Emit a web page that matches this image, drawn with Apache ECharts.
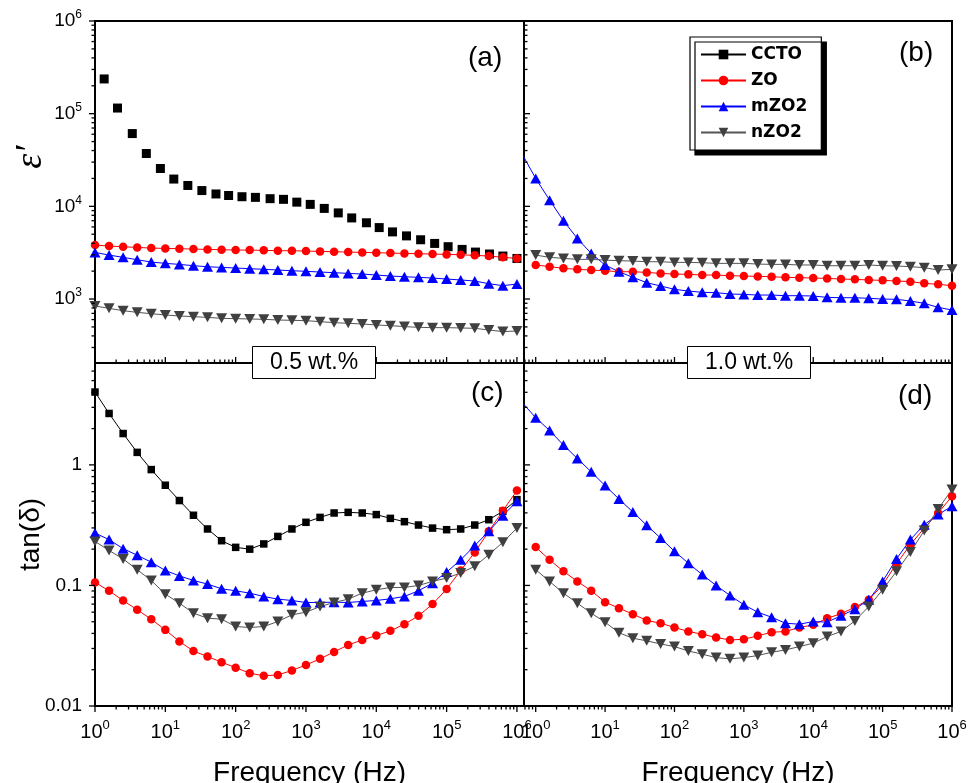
<!DOCTYPE html>
<html>
<head>
<meta charset="utf-8">
<script src="https://cdn.jsdelivr.net/npm/echarts@6/dist/echarts.min.js"></script>
<style>
  html, body { margin: 0; padding: 0; background: #fff; }
  #chart { width: 968px; height: 783px; }
</style>
</head>
<body>
<div id="chart"></div>
<script>
// ---- Measurement frequencies (Hz) ----
const freq = [1, 1.585, 2.512, 3.981, 6.310, 10, 15.85, 25.12, 39.81, 63.10,
  100, 158.5, 251.2, 398.1, 631.0, 1000, 1585, 2512, 3981, 6310,
  1e4, 1.585e4, 2.512e4, 3.981e4, 6.310e4, 1e5, 1.585e5, 2.512e5, 3.981e5, 6.310e5, 1e6];
// mZO2 at 1.0 wt.% also has a reading just below 1 Hz
const freqM10 = [0.631, 1, 1.585, 2.512, 3.981, 6.310, 10, 15.85, 25.12, 39.81, 63.10,
  100, 158.5, 251.2, 398.1, 631.0, 1000, 1585, 2512, 3981, 6310,
  1e4, 1.585e4, 2.512e4, 3.981e4, 6.310e4, 1e5, 1.585e5, 2.512e5, 3.981e5, 6.310e5, 1e6];
// CCTO permittivity sweep
const freqCCTOeps = [1.35, 2.09, 3.39, 5.37, 8.51, 13.2, 20.9, 33.1, 52.5, 79.4,
  123, 191, 309, 479, 741, 1150, 1820, 2880, 4470, 7240,
  1.10e4, 1.70e4, 2.69e4, 4.27e4, 6.76e4, 1.05e5, 1.66e5, 2.57e5, 4.07e5, 6.31e5, 1e6];

// ---- Real permittivity, 0.5 wt.% ----
const epsCCTO = [2.37e5, 1.15e5, 6.1e4, 3.72e4, 2.56e4, 1.97e4, 1.68e4, 1.48e4, 1.36e4, 1.31e4,
  1.27e4, 1.25e4, 1.21e4, 1.19e4, 1.11e4, 1.05e4, 9500, 8500, 7500, 6650,
  5900, 5300, 4800, 4360, 3980, 3670, 3430, 3210, 3060, 2910, 2740];
const epsZO05 = [3820, 3725, 3665, 3605, 3545, 3515, 3490, 3460, 3430, 3405,
  3375, 3375, 3350, 3320, 3320, 3290, 3265, 3240, 3210, 3185,
  3160, 3130, 3105, 3080, 3055, 3030, 3005, 2960, 2910, 2815, 2745];
const epsM05 = [3185, 2980, 2815, 2655, 2505, 2425, 2365, 2290, 2230, 2195,
  2160, 2125, 2090, 2055, 2020, 1990, 1955, 1925, 1890, 1860,
  1815, 1770, 1740, 1713, 1685, 1643, 1605, 1565, 1463, 1393, 1452];
const epsN05 = [841, 793, 748, 718, 695, 673, 656, 645, 634, 619,
  614, 609, 604, 594, 589, 584, 570, 556, 547, 538,
  525, 516, 504, 495, 491, 491, 487, 483, 463, 445, 452];

// ---- Real permittivity, 1.0 wt.% ----
const epsZO10 = [2330, 2235, 2145, 2090, 2055, 2020, 1970, 1970, 1938, 1890,
  1860, 1845, 1815, 1815, 1785, 1770, 1755, 1740, 1713, 1700,
  1685, 1670, 1643, 1630, 1605, 1590, 1565, 1540, 1477, 1440, 1393];
const epsM10 = [37150, 20000, 11670, 6985, 4505, 3105, 2325, 1970, 1713, 1500, 1382,
  1272, 1220, 1180, 1170, 1132, 1122, 1104, 1104, 1086, 1086,
  1077, 1042, 1033, 1033, 1017, 1000, 992, 952, 898, 813, 761];
const epsN10 = [2980, 2815, 2745, 2680, 2680, 2630, 2590, 2570, 2525, 2525,
  2485, 2485, 2465, 2425, 2425, 2425, 2385, 2365, 2365, 2330,
  2330, 2287, 2287, 2287, 2330, 2287, 2270, 2235, 2180, 2055, 2090];

// ---- Loss tangent, 0.5 wt.% ----
const tanCCTO = [4.02, 2.67, 1.82, 1.27, 0.914, 0.678, 0.506, 0.382, 0.294, 0.235,
  0.207, 0.200, 0.221, 0.255, 0.294, 0.334, 0.367, 0.399, 0.404, 0.399,
  0.387, 0.360, 0.338, 0.317, 0.299, 0.290, 0.294, 0.317, 0.351, 0.412, 0.515];
const tanZO05 = [0.106, 0.0903, 0.0750, 0.0628, 0.0525, 0.0428, 0.0343, 0.0286, 0.0257, 0.0231,
  0.0208, 0.0187, 0.0178, 0.0181, 0.0197, 0.0219, 0.0246, 0.0281, 0.0321, 0.0353,
  0.0384, 0.0420, 0.0477, 0.0560, 0.0700, 0.0933, 0.133, 0.188, 0.281, 0.417, 0.612];
const tanM05 = [0.272, 0.240, 0.202, 0.178, 0.156, 0.133, 0.120, 0.110, 0.1026, 0.0938,
  0.0903, 0.0863, 0.0810, 0.0770, 0.0750, 0.0722, 0.0722, 0.0727, 0.0722, 0.0737,
  0.0750, 0.0775, 0.0810, 0.0903, 0.1045, 0.129, 0.163, 0.214, 0.281, 0.379, 0.499];
const tanN05 = [0.232, 0.195, 0.166, 0.135, 0.110, 0.0847, 0.0713, 0.0589, 0.0535, 0.0525,
  0.0456, 0.0448, 0.0456, 0.0502, 0.0570, 0.0600, 0.0668, 0.0722, 0.0770, 0.0863,
  0.0920, 0.0962, 0.0962, 0.100, 0.108, 0.115, 0.127, 0.144, 0.180, 0.228, 0.299];

// ---- Loss tangent, 1.0 wt.% ----
const tanZO10 = [0.208, 0.163, 0.131, 0.108, 0.0903, 0.0727, 0.0648, 0.0578, 0.0512, 0.0486,
  0.0448, 0.0415, 0.0394, 0.0370, 0.0353, 0.0358, 0.0382, 0.0409, 0.0415, 0.0448,
  0.0471, 0.0535, 0.0582, 0.0661, 0.0760, 0.101, 0.151, 0.218, 0.299, 0.399, 0.549];
const tanM10 = [3.32, 2.46, 1.93, 1.46, 1.13, 0.875, 0.673, 0.521, 0.407, 0.315, 0.247,
  0.192, 0.153, 0.123, 0.100, 0.0826, 0.0691, 0.0600, 0.0545, 0.0486, 0.0477,
  0.0502, 0.0496, 0.0560, 0.0636, 0.0760, 0.108, 0.166, 0.240, 0.319, 0.387, 0.454];
const tanN10 = [0.135, 0.108, 0.0863, 0.0713, 0.0589, 0.0496, 0.0405, 0.0365, 0.0347, 0.0327,
  0.0311, 0.0286, 0.0269, 0.0252, 0.0246, 0.0252, 0.0262, 0.0279, 0.0292, 0.0311,
  0.0332, 0.0377, 0.0415, 0.0508, 0.0668, 0.0920, 0.131, 0.189, 0.285, 0.431, 0.624];

// ---- Axis ranges and tick values ----
const xRangeLeft = [1, 1.26e6];
const xRangeRight = [0.678, 1e6];
const epsRange = [204, 1e6];
const tanRange = [0.01, 7.0];
const decadesX = [1, 10, 100, 1e3, 1e4, 1e5, 1e6];
const decadesEps = [1e3, 1e4, 1e5, 1e6];
const decadesTan = [0.01, 0.1, 1];
const minorMantissa = [2, 3, 4, 5, 6, 7, 8, 9];

const seriesNames = ['CCTO', 'ZO', 'mZO2', 'nZO2'];
const wtLabels = ['0.5 wt.%', '1.0 wt.%'];
const panelLabels = ['(a)', '(b)', '(c)', '(d)'];

// ---------------------------------------------------------------
const FONT = '"Liberation Sans", Arial, sans-serif';
const colors = { CCTO: '#000000', ZO: '#ff0000', mZO2: '#0000ff', nZO2: '#404040' };
const lineColors = { CCTO: '#000000', ZO: '#ff0000', mZO2: '#0000ff', nZO2: '#555555' };
const downTriangle = 'path://M0,0L10,0L5,9Z';

function minorWithin(lo, hi) {
  const out = [];
  for (let k = Math.floor(Math.log10(lo)); k <= Math.ceil(Math.log10(hi)); k++) {
    for (const m of minorMantissa) {
      const v = m * Math.pow(10, k);
      if (v > lo && v < hi) out.push(v);
    }
  }
  return out;
}
function within(vals, r) { return vals.filter(v => v >= r[0] * 0.999999 && v <= r[1] * 1.000001); }

function isDecade(v) {
  const e = Math.log10(v);
  return Math.abs(e - Math.round(e)) < 1e-6;
}
const powFmt = v => isDecade(v) ? '{b|10}{s|' + Math.round(Math.log10(v)) + '}' : '';
const decFmt = v => isDecade(v) ? String(+v.toPrecision(6)) : '';

// ticks drawn through each grid's own axes
function tickSeries(gi, dim, values, refValue, len) {
  return {
    type: 'custom', xAxisIndex: gi, yAxisIndex: gi, silent: true, z: 6,
    animation: false,
    data: values.map(v => dim === 'x' ? [v, refValue] : [refValue, v]),
    renderItem: function (params, api) {
      const cs = params.coordSys;
      const p = api.coord([api.value(0), api.value(1)]);
      const shape = dim === 'x'
        ? { x1: p[0], y1: cs.y + cs.height, x2: p[0], y2: cs.y + cs.height + len }
        : { x1: cs.x, y1: p[1], x2: cs.x + len, y2: p[1] };
      return { type: 'line', shape: shape, style: { stroke: '#000', lineWidth: 1.3 } };
    }
  };
}

function lineSeries(name, gi, xs, ys, o) {
  o = o || {};
  const sym = { CCTO: 'rect', ZO: 'circle', mZO2: 'triangle', nZO2: downTriangle }[name];
  const size = { CCTO: o.rect || 7.5, ZO: 8.5, mZO2: [11, 10], nZO2: [11, 10] }[name];
  return {
    type: 'line', name: name, xAxisIndex: gi, yAxisIndex: gi,
    data: xs.map((x, i) => [x, ys[i]]),
    symbol: sym, symbolSize: size, showSymbol: true, showAllSymbol: true,
    itemStyle: { color: colors[name], opacity: 1 },
    lineStyle: { color: lineColors[name], width: o.noLine ? 0 : 1, opacity: o.noLine ? 0 : 1 },
    clip: true, animation: false, z: 3
  };
}

const grids = [
  { left: 95, top: 21, width: 429, height: 342 },
  { left: 524, top: 21, width: 428, height: 342 },
  { left: 95, top: 363, width: 429, height: 343 },
  { left: 524, top: 363, width: 428, height: 343 }
].map(g => Object.assign(g, {
  show: true, borderColor: '#000', borderWidth: 2, backgroundColor: 'transparent',
  outerBoundsMode: 'none', containLabel: false
}));

const axisLine = { show: true, lineStyle: { color: '#000', width: 2 } };
const richX = {
  b: { fontSize: 20, lineHeight: 26, fontFamily: FONT, color: '#000' },
  s: { fontSize: 13, lineHeight: 13, verticalAlign: 'top', fontFamily: FONT, color: '#000' }
};
const richY = {
  b: { fontSize: 19, lineHeight: 24, fontFamily: FONT, color: '#000' },
  s: { fontSize: 12, lineHeight: 12, verticalAlign: 'top', fontFamily: FONT, color: '#000' }
};

function xAxis(gi, range, labels) {
  return {
    type: 'log', logBase: 10, gridIndex: gi, min: range[0], max: range[1],
    axisLine: axisLine, axisTick: { show: false }, splitLine: { show: false },
    axisLabel: labels ? { show: true, formatter: powFmt, rich: richX, margin: 13 } : { show: false },
    name: labels ? 'Frequency (Hz)' : '', nameLocation: 'middle', nameGap: 53, nameMoveOverlap: false,
    nameTextStyle: { fontSize: 28, fontFamily: FONT, color: '#000' }
  };
}
function yAxis(gi, range, labelKind, name) {
  let axisLabel = { show: false };
  if (labelKind === 'pow') axisLabel = { show: true, formatter: powFmt, rich: richY, margin: 13 };
  if (labelKind === 'dec') axisLabel = { show: true, formatter: decFmt, fontSize: 19, fontFamily: FONT, color: '#000', margin: 13 };
  return {
    type: 'log', logBase: 10, gridIndex: gi, min: range[0], max: range[1],
    axisLine: axisLine, axisTick: { show: false }, splitLine: { show: false },
    axisLabel: axisLabel,
    name: name || '', nameLocation: 'middle', nameGap: 50, nameMoveOverlap: false,
    nameTextStyle: { fontSize: 28, fontFamily: FONT, color: '#000' }
  };
}

const series = [
  // (c) loss tangent, 0.5 wt.%
  lineSeries('CCTO', 2, freq, tanCCTO),
  lineSeries('ZO', 2, freq, tanZO05),
  lineSeries('mZO2', 2, freq, tanM05),
  lineSeries('nZO2', 2, freq, tanN05),
  // (a) permittivity, 0.5 wt.%
  lineSeries('CCTO', 0, freqCCTOeps, epsCCTO, { noLine: true, rect: 9 }),
  lineSeries('ZO', 0, freq, epsZO05),
  lineSeries('mZO2', 0, freq, epsM05),
  lineSeries('nZO2', 0, freq, epsN05),
  // (b) permittivity, 1.0 wt.%
  lineSeries('ZO', 1, freq, epsZO10),
  lineSeries('mZO2', 1, freqM10, epsM10),
  lineSeries('nZO2', 1, freq, epsN10),
  // (d) loss tangent, 1.0 wt.%
  lineSeries('ZO', 3, freq, tanZO10),
  lineSeries('mZO2', 3, freqM10, tanM10),
  lineSeries('nZO2', 3, freq, tanN10)
];

// axis ticks: top panels point inward on x, left panels outward on y
const tickSpec = [
  { gi: 0, xr: xRangeLeft, yr: epsRange, yDec: decadesEps, xDir: -1, yDir: -1 },
  { gi: 1, xr: xRangeRight, yr: epsRange, yDec: decadesEps, xDir: -1, yDir: 1 },
  { gi: 2, xr: xRangeLeft, yr: tanRange, yDec: decadesTan, xDir: 1, yDir: -1 },
  { gi: 3, xr: xRangeRight, yr: tanRange, yDec: decadesTan, xDir: 1, yDir: 1 }
];
tickSpec.forEach(t => {
  series.push(tickSeries(t.gi, 'x', within(decadesX, t.xr), t.yr[0], 6 * t.xDir));
  series.push(tickSeries(t.gi, 'x', minorWithin(t.xr[0], t.xr[1]), t.yr[0], 3.5 * t.xDir));
  series.push(tickSeries(t.gi, 'y', within(t.yDec, t.yr), t.xr[0], 6 * t.yDir));
  series.push(tickSeries(t.gi, 'y', minorWithin(t.yr[0], t.yr[1]), t.xr[0], 3.5 * t.yDir));
});

const panelStyle = { fontSize: 28, fontWeight: 'normal', fontFamily: FONT, color: '#000' };
const wtStyle = { fontSize: 23, fontWeight: 'normal', fontFamily: FONT, color: '#000' };

const option = {
  animation: false,
  backgroundColor: '#fff',
  textStyle: { fontFamily: FONT },
  grid: grids,
  xAxis: [xAxis(0, xRangeLeft, false), xAxis(1, xRangeRight, false), xAxis(2, xRangeLeft, true), xAxis(3, xRangeRight, true)],
  yAxis: [yAxis(0, epsRange, 'pow'), yAxis(1, epsRange, null), yAxis(2, tanRange, 'dec', 'tan(\u03b4)'), yAxis(3, tanRange, null)],
  title: [
    { text: panelLabels[0], left: 468, top: 44, padding: 0, textStyle: panelStyle },
    { text: panelLabels[1], left: 899, top: 39, padding: 0, textStyle: panelStyle },
    { text: panelLabels[2], left: 471, top: 379, padding: 0, textStyle: panelStyle },
    { text: panelLabels[3], left: 898, top: 382, padding: 0, textStyle: panelStyle },
    { text: wtLabels[0], left: 252, top: 346, z: 50, zlevel: 1, padding: [5, 18, 5, 18], borderColor: '#000', borderWidth: 1, backgroundColor: '#fff', textStyle: wtStyle },
    { text: wtLabels[1], left: 687, top: 346, z: 50, zlevel: 1, padding: [5, 18, 5, 18], borderColor: '#000', borderWidth: 1, backgroundColor: '#fff', textStyle: wtStyle }
  ],
  legend: {
    data: seriesNames, orient: 'vertical', left: 690, top: 37,
    itemWidth: 45, itemHeight: 12, itemGap: 9,
    padding: [9, 14, 9, 10],
    backgroundColor: '#fff', borderColor: '#000', borderWidth: 1.2,
    shadowColor: '#000', shadowBlur: 0, shadowOffsetX: 5, shadowOffsetY: 5,
    selectedMode: false,
    textStyle: { fontFamily: '"DejaVu Sans", sans-serif', fontWeight: 'bold', fontSize: 17, color: '#000' }
  },
  graphic: [{
    type: 'text', x: 31, y: 157, rotation: Math.PI / 2, z: 10,
    style: { text: '\u03b5\u2032', font: 'italic 38px "Liberation Serif", "DejaVu Serif", serif', fill: '#000', align: 'center', verticalAlign: 'middle' }
  }],
  series: series
};

const chart = echarts.init(document.getElementById('chart'), null, { renderer: 'canvas' });
chart.setOption(option);
</script>
</body>
</html>
